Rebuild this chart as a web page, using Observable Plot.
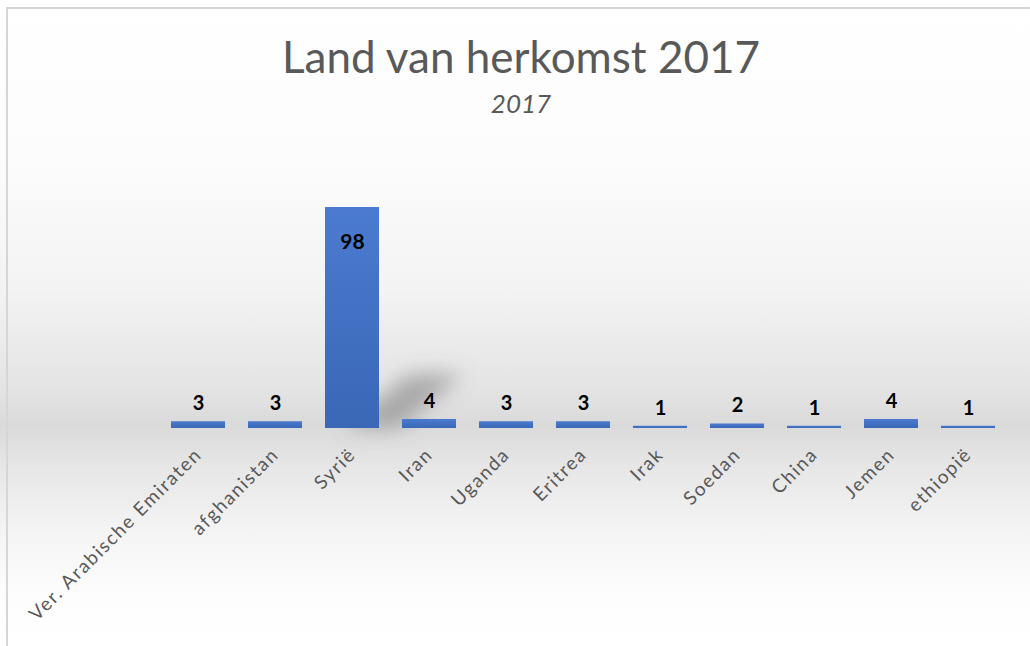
<!DOCTYPE html>
<html>
<head>
<meta charset="utf-8">
<script src="https://cdn.jsdelivr.net/npm/d3@7"></script>
<script src="https://cdn.jsdelivr.net/npm/@observablehq/plot@0.6"></script>
<style>
  html, body { margin: 0; padding: 0; width: 1030px; height: 646px; overflow: hidden; background: #fff; }
  #page {
    position: absolute; left: 0; top: 0; width: 1030px; height: 646px;
    background: linear-gradient(to bottom, #ffffff 0%, #fcfcfc 25%, #f3f3f3 45%, #e4e4e4 60%, #dadada 66%, #e6e6e6 72%, #f4f4f4 82%, #fdfdfd 92%, #ffffff 100%);
  }
  #frame {
    position: absolute; left: 6px; top: 7px; width: 1024px; height: 639px;
    border-left: 2px solid #d6d6d6; border-top: 2px solid #d6d6d6; box-sizing: border-box;
  }
  #title {
    position: absolute; left: 12px; top: 30px; width: 1018px; text-align: center;
    font-family: Lato, "Open Sans", sans-serif; font-size: 44px; color: #595959; line-height: 52px;
  }
  #subtitle {
    position: absolute; left: 12px; top: 87px; width: 1018px; text-align: center;
    font-family: Lato, "Open Sans", sans-serif; font-style: italic; font-size: 26px; color: #595959; line-height: 32px;
  }
  #chart { position: absolute; left: 0; top: 130px; }
</style>
</head>
<body>
<div id="page">
  <div id="frame"></div>
  <div id="title">Land van herkomst 2017</div>
  <div id="subtitle">2017</div>
  <div id="chart"></div>
</div>
<script>
const countries = ["Ver. Arabische Emiraten", "afghanistan", "Syrië", "Iran", "Uganda", "Eritrea", "Irak", "Soedan", "China", "Jemen", "ethiopië"];
const counts = [3, 3, 98, 4, 3, 3, 1, 2, 1, 4, 1];

const data = countries.map((c, i) => ({country: c, count: counts[i]}));
const maxCount = d3.max(counts);
const tallest = data.filter(d => d.count === maxCount);

const chart = Plot.plot({
  width: 1030,
  height: 516,
  style: {background: "transparent", overflow: "visible"},
  x: {domain: countries, range: [144, 1021], padding: 0.3, axis: null},
  y: {domain: [0, maxCount], range: [298, 77], axis: null},
  marks: [
    Plot.barY(tallest, {x: "country", y: () => 24, fill: "#707070", fillOpacity: 0.5, ariaDescription: "shadow"}),
    Plot.barY(data, {x: "country", y: "count", fill: "url(#barGrad)"}),
    Plot.text(data.filter(d => d.count !== maxCount), {
      x: "country", y: "count", text: d => String(d.count), dy: -18,
      fontFamily: "Lato, sans-serif", fontWeight: "bold", fontSize: 20, fill: "#000"
    }),
    Plot.text(tallest, {
      x: "country", y: "count", text: d => String(d.count), dy: 35,
      fontFamily: "Lato, sans-serif", fontWeight: "bold", fontSize: 21, fill: "#000"
    }),
    Plot.text(data, {
      x: "country", y: () => 0, text: "country", rotate: -45, textAnchor: "end",
      dx: 0, dy: 23, fontFamily: "Lato, sans-serif", fontSize: 19, fill: "#595959",
      ariaDescription: "country-labels"
    })
  ]
});

const ns = "http://www.w3.org/2000/svg";
const defs = document.createElementNS(ns, "defs");
defs.innerHTML = `<linearGradient id="barGrad" x1="0" y1="0" x2="0" y2="1">
  <stop offset="0%" stop-color="#4b7bd0"/>
  <stop offset="100%" stop-color="#3a67b6"/>
</linearGradient>
<filter id="shadowBlur" x="-100%" y="-100%" width="300%" height="300%">
  <feGaussianBlur stdDeviation="10"/>
</filter>`;
chart.insertBefore(defs, chart.firstChild);

const shadowG = chart.querySelector('g[aria-description="shadow"]');
if (shadowG) {
  shadowG.setAttribute("filter", "url(#shadowBlur)");
  shadowG.querySelectorAll("rect").forEach(r => {
    r.style.transformBox = "fill-box";
    r.style.transformOrigin = "0% 100%";
    r.style.transform = "translateX(20px) skewX(-50deg)";
  });
}
const labelG = chart.querySelector('g[aria-description="country-labels"]');
if (labelG) labelG.style.letterSpacing = "1.6px";

document.getElementById("chart").appendChild(chart);
</script>
</body>
</html>
